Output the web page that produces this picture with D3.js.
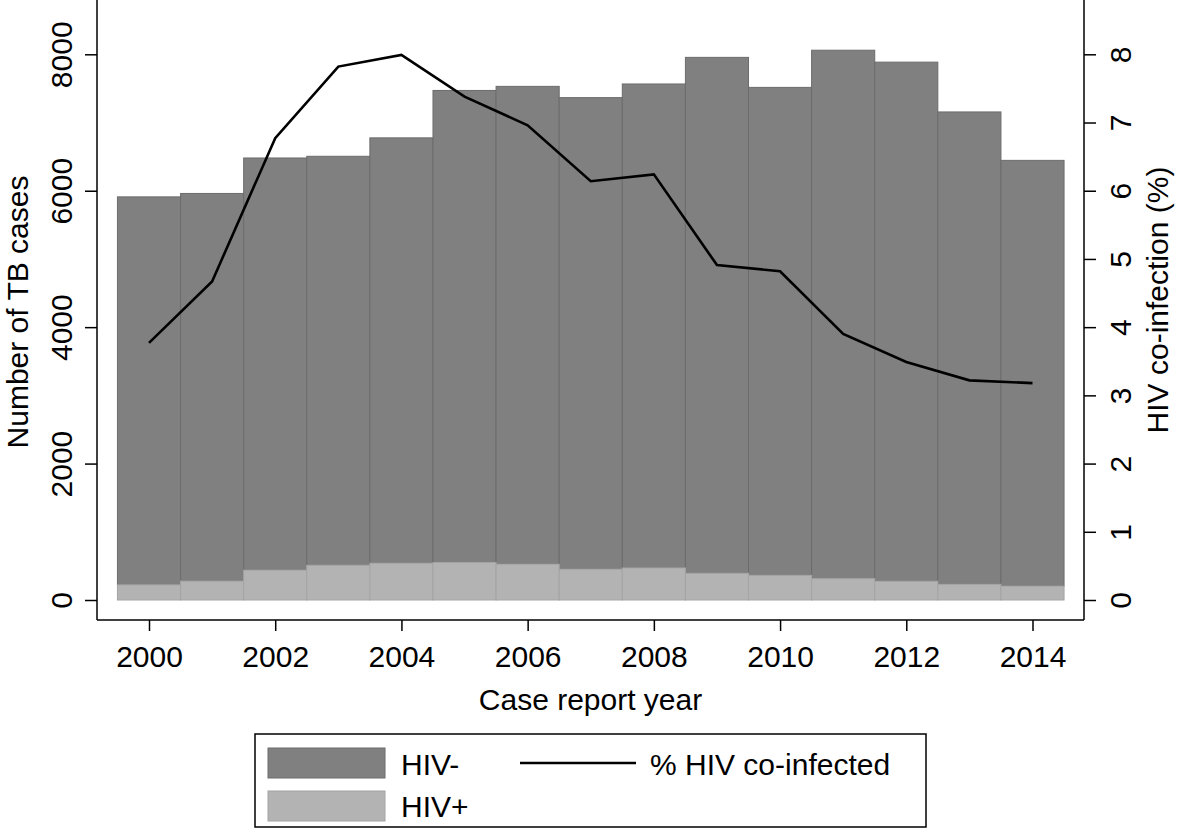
<!DOCTYPE html>
<html>
<head>
<meta charset="utf-8">
<script src="https://cdn.jsdelivr.net/npm/d3@7"></script>
<style>
  html, body { margin: 0; padding: 0; background: #fff; }
  svg { display: block; font-family: "Liberation Sans", Arial, Helvetica, sans-serif; }
</style>
</head>
<body>
<svg id="chart" width="1181" height="838"></svg>
<script>
// ---- data ----
const years = [2000, 2001, 2002, 2003, 2004, 2005, 2006, 2007, 2008, 2009, 2010, 2011, 2012, 2013, 2014];
const totalCases = [5910, 5960, 6480, 6505, 6775, 7470, 7530, 7365, 7565, 7955, 7515, 8060, 7885, 7155, 6445];
const hivPositive = [222, 277, 438, 510, 540, 550, 525, 452, 470, 392, 362, 313, 275, 230, 204];
const pctCoinfected = [3.77, 4.67, 6.77, 7.82, 7.99, 7.38, 6.96, 6.14, 6.24, 4.91, 4.82, 3.90, 3.49, 3.22, 3.18];
const leftTicks = [0, 2000, 4000, 6000, 8000];
const rightTicks = [0, 1, 2, 3, 4, 5, 6, 7, 8];
const xTicks = [2000, 2002, 2004, 2006, 2008, 2010, 2012, 2014];
const seriesLabels = ["HIV-", "HIV+", "% HIV co-infected"];

const svg = d3.select("#chart");
const FS = 30;

const x = d3.scaleLinear().domain([2000, 2014]).range([149, 1032.5]);
const yL = d3.scaleLinear().domain([0, 8000]).range([600, 54.3]);
const yR = d3.scaleLinear().domain([0, 8]).range([600, 54.3]);
const halfW = (x(2001) - x(2000)) / 2;

const axisLeftX = 97, axisRightX = 1084, axisBottomY = 620;

// ---- bars ----
const data = years.map((yr, i) => ({ yr, total: totalCases[i], pos: hivPositive[i], pct: pctCoinfected[i] }));

svg.append("g").selectAll("rect.neg").data(data).enter().append("rect")
  .attr("x", d => x(d.yr) - halfW)
  .attr("width", halfW * 2)
  .attr("y", d => yL(d.total))
  .attr("height", d => yL(d.pos) - yL(d.total))
  .attr("fill", "#808080")
  .attr("stroke", "#6c6c6c")
  .attr("stroke-width", 1);

svg.append("g").selectAll("rect.pos").data(data).enter().append("rect")
  .attr("x", d => x(d.yr) - halfW)
  .attr("width", halfW * 2)
  .attr("y", d => yL(d.pos))
  .attr("height", d => yL(0) - yL(d.pos))
  .attr("fill", "#b3b3b3")
  .attr("stroke", "#a4a4a4")
  .attr("stroke-width", 1);

// ---- line ----
const line = d3.line().x(d => x(d.yr)).y(d => yR(d.pct));
svg.append("path").datum(data)
  .attr("d", line)
  .attr("fill", "none")
  .attr("stroke", "#000")
  .attr("stroke-width", 2.6)
  .attr("stroke-linejoin", "miter");

// ---- axes ----
const axisG = svg.append("g").attr("stroke", "#000").attr("stroke-width", 1.5);
axisG.append("line").attr("x1", axisLeftX).attr("x2", axisLeftX).attr("y1", 0).attr("y2", axisBottomY);
axisG.append("line").attr("x1", axisRightX).attr("x2", axisRightX).attr("y1", 0).attr("y2", axisBottomY);
axisG.append("line").attr("x1", axisLeftX).attr("x2", axisRightX).attr("y1", axisBottomY).attr("y2", axisBottomY);

// left ticks
const lt = svg.append("g").attr("transform", `translate(${axisLeftX},0)`)
  .call(d3.axisLeft(yL).tickValues(leftTicks).tickSize(12).tickPadding(0).tickFormat(d3.format("d")));
lt.select(".domain").remove();
lt.selectAll(".tick line").attr("stroke", "#000").attr("stroke-width", 1.5);
lt.selectAll(".tick text")
  .attr("x", null).attr("dy", null)
  .attr("transform", "translate(-25,0) rotate(-90)")
  .attr("text-anchor", "middle")
  .attr("fill", "#000")
  .style("font-size", FS + "px")
  .style("font-family", "'Liberation Sans', Arial, sans-serif");

// right ticks
const rt = svg.append("g").attr("transform", `translate(${axisRightX},0)`)
  .call(d3.axisRight(yR).tickValues(rightTicks).tickSize(12).tickPadding(0).tickFormat(d3.format("d")));
rt.select(".domain").remove();
rt.selectAll(".tick line").attr("stroke", "#000").attr("stroke-width", 1.5);
rt.selectAll(".tick text")
  .attr("x", null).attr("dy", null)
  .attr("transform", "translate(47,0) rotate(-90)")
  .attr("text-anchor", "middle")
  .attr("fill", "#000")
  .style("font-size", FS + "px")
  .style("font-family", "'Liberation Sans', Arial, sans-serif");

// bottom ticks
const bt = svg.append("g").attr("transform", `translate(0,${axisBottomY})`)
  .call(d3.axisBottom(x).tickValues(xTicks).tickSize(11).tickPadding(0).tickFormat(d3.format("d")));
bt.select(".domain").remove();
bt.selectAll(".tick line").attr("stroke", "#000").attr("stroke-width", 1.5);
bt.selectAll(".tick text")
  .attr("y", 47).attr("dy", null)
  .attr("fill", "#000")
  .style("font-size", FS + "px")
  .style("font-family", "'Liberation Sans', Arial, sans-serif");

// axis titles
svg.append("text")
  .attr("transform", "translate(28,312) rotate(-90)")
  .attr("text-anchor", "middle")
  .style("font-size", FS + "px")
  .text("Number of TB cases");
svg.append("text")
  .attr("transform", "translate(1168,300) rotate(-90)")
  .attr("text-anchor", "middle")
  .style("font-size", FS + "px")
  .text("HIV co-infection (%)");
svg.append("text")
  .attr("x", (axisLeftX + axisRightX) / 2)
  .attr("y", 710)
  .attr("text-anchor", "middle")
  .style("font-size", FS + "px")
  .text("Case report year");

// ---- legend ----
const lg = svg.append("g");
lg.append("rect").attr("x", 255).attr("y", 734).attr("width", 671).attr("height", 93)
  .attr("fill", "#fff").attr("stroke", "#000").attr("stroke-width", 1.5);
lg.append("rect").attr("x", 268).attr("y", 748).attr("width", 117).attr("height", 30)
  .attr("fill", "#808080").attr("stroke", "#6c6c6c");
lg.append("rect").attr("x", 268).attr("y", 791).attr("width", 117).attr("height", 30)
  .attr("fill", "#b3b3b3").attr("stroke", "#a4a4a4");
lg.append("text").attr("x", 401).attr("y", 775).style("font-size", "30px").text(seriesLabels[0]);
lg.append("text").attr("x", 401).attr("y", 817).style("font-size", "30px").text(seriesLabels[1]);
lg.append("line").attr("x1", 520).attr("x2", 636).attr("y1", 763).attr("y2", 763)
  .attr("stroke", "#000").attr("stroke-width", 2.6);
lg.append("text").attr("x", 650).attr("y", 775).style("font-size", "30px").text(seriesLabels[2]);
</script>
</body>
</html>
